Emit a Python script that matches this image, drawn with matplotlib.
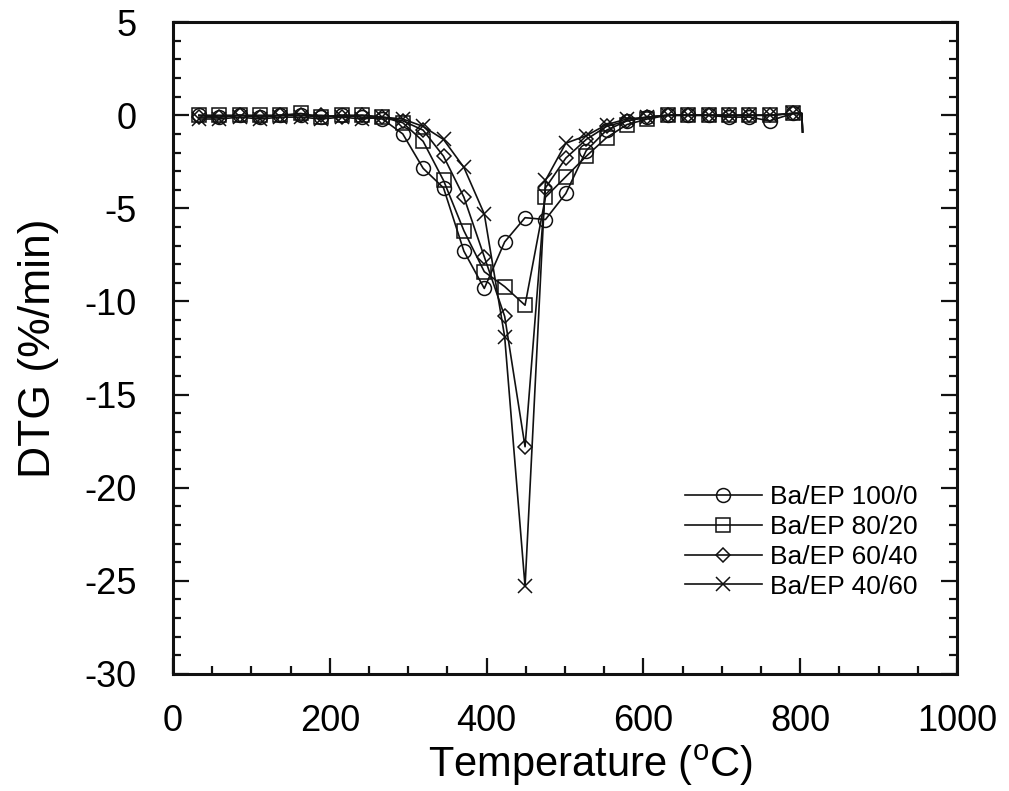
import numpy as np
import matplotlib
matplotlib.use('Agg')
import matplotlib.pyplot as plt
from matplotlib.ticker import MultipleLocator


plt.rcParams['font.family'] = ['Liberation Sans', 'DejaVu Sans']
plt.rcParams['mathtext.fontset'] = 'custom'
plt.rcParams['mathtext.rm'] = 'Liberation Sans'
plt.rcParams['axes.unicode_minus'] = False

# temperature of each sampled point (last two points close the run, no marker)
temps = [33, 59, 85, 111, 137, 163, 189, 215, 241, 267,
         293, 319, 345, 371, 397, 423, 449, 475, 501, 527,
         553, 579, 605, 631, 657, 683, 709, 735, 761, 791, 802, 803]

dtg_100_0 = [0.0, -0.1, 0.0, -0.1, 0.0, 0.0, -0.1, 0.0, -0.1, -0.2,
             -1.0, -2.85, -3.9, -7.3, -9.3, -6.8, -5.5, -5.6, -4.2, -1.9,
             -0.8, -0.3, -0.1, 0.0, 0.0, 0.0, -0.1, -0.1, -0.3, 0.1, 0.1, -0.9]
dtg_80_20 = [0.0, 0.0, 0.0, 0.0, 0.0, 0.1, -0.1, 0.0, 0.0, -0.1,
             -0.4, -1.4, -3.5, -6.2, -8.4, -9.2, -10.2, -4.4, -3.3, -2.2,
             -1.2, -0.5, -0.2, 0.0, 0.0, 0.0, 0.0, 0.0, 0.0, 0.1, 0.1, -0.9]
dtg_60_40 = [-0.1, -0.1, 0.0, -0.1, 0.0, 0.0, 0.0, -0.1, 0.0, -0.1,
             -0.3, -0.8, -2.2, -4.4, -7.6, -10.8, -17.8, -3.9, -2.3, -1.3,
             -0.6, -0.3, -0.1, 0.0, 0.0, 0.0, 0.0, 0.0, 0.0, 0.1, 0.1, -0.9]
dtg_40_60 = [-0.2, -0.2, -0.1, -0.2, -0.1, -0.1, -0.2, -0.1, -0.2, -0.1,
             -0.2, -0.6, -1.3, -2.8, -5.3, -11.9, -25.3, -3.5, -1.5, -1.1,
             -0.5, -0.2, -0.1, 0.0, 0.0, 0.0, 0.0, 0.0, 0.0, 0.1, 0.1, -0.9]

labels = ['Ba/EP 100/0', 'Ba/EP 80/20', 'Ba/EP 60/40', 'Ba/EP 40/60']
series = [dtg_100_0, dtg_80_20, dtg_60_40, dtg_40_60]
markers = ['o', 's', 'D', 'x']
msizes = [10, 10, 7.5, 10]

fig = plt.figure(figsize=(10.09, 7.91), dpi=100)
ax = fig.add_axes([0.1715, 0.148, 0.777, 0.824])

for vals, lab, m, ms in zip(series, labels, markers, msizes):
    ax.plot(temps, vals, color='#111111', lw=1.2, marker=m, ms=ms,
            mfc='none', mec='#111111', mew=1.1, markevery=slice(0, -2),
            label=lab)

ax.set_xlim(0, 1000)
ax.set_ylim(-30, 5)
ax.xaxis.set_major_locator(MultipleLocator(200))
ax.xaxis.set_minor_locator(MultipleLocator(50))
ax.yaxis.set_major_locator(MultipleLocator(5))
ax.yaxis.set_minor_locator(MultipleLocator(1))

ax.tick_params(which='both', direction='in', top=False, right=True,
               width=1.6, color='#111111')
ax.tick_params(which='major', length=11.5)
ax.tick_params(which='minor', length=6)
ax.tick_params(axis='x', which='major', labelsize=26, pad=22)
ax.tick_params(axis='y', which='major', labelsize=26, pad=26)
for sp in ax.spines.values():
    sp.set_linewidth(2.2)
    sp.set_color('#111111')

ax.set_xlabel(r'Temperature ($^{\mathrm{o}}$C)', fontsize=30)
ax.set_ylabel('DTG (%/min)', fontsize=32)
ax.xaxis.set_label_coords(0.532, -0.106)
ax.yaxis.set_label_coords(-0.146, 0.5)

ax.legend(loc='center left', bbox_to_anchor=(0.679, 0.315),
          bbox_transform=fig.transFigure, frameon=False, fontsize=19,
          handlelength=2.9, handletextpad=0.3, labelspacing=0.22,
          borderpad=0, borderaxespad=0)

fig.savefig('out.png', dpi=100)
